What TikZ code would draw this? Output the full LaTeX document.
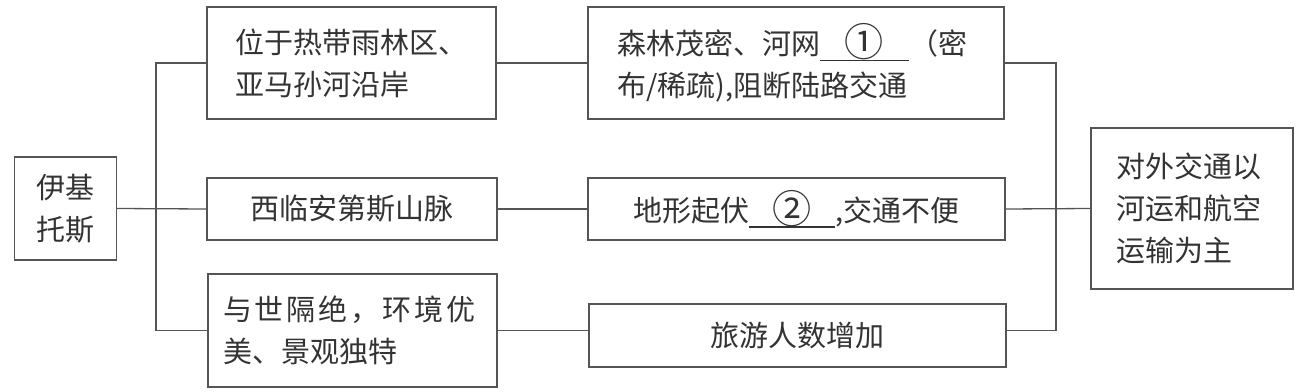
\documentclass[tikz,border=0pt]{standalone}
\usepackage{fontspec}
\usepackage{graphicx}
\newfontfamily\cjk{Noto Sans CJK SC}
\newcommand\blankfill[2]{\rlap{\rule[-6pt]{#1}{1.1pt}}\makebox[#1]{\raisebox{-2pt}{\scalebox{1.35}{#2}}}}
\definecolor{inkc}{HTML}{333333}
\definecolor{linec}{HTML}{555555}
\tikzset{
  boxnode/.style={draw=linec, line width=1.3pt, text=inkc, inner ysep=0pt,
    font=\cjk\fontsize{29}{42}\selectfont},
  conn/.style={draw=linec, line width=1.3pt}
}
\begin{document}
\begin{tikzpicture}[x=1pt,y=-1pt]
\useasboundingbox (0,0) rectangle (1298,391);
% left node
\node[boxnode, minimum width=102pt, minimum height=103pt, align=center] (I) at (65.5,208.5) {伊基\\托斯};
% middle column
\node[boxnode, minimum width=289pt, minimum height=112pt, inner xsep=28pt, text width=233pt, align=left] (A) at (351.5,63) {位于热带雨林区、\\亚马孙河沿岸};
\node[boxnode, minimum width=290pt, minimum height=62pt, align=center] (B) at (352,209) {西临安第斯山脉};
\node[boxnode, minimum width=289pt, minimum height=113pt, inner xsep=15pt, text width=259pt, align=left] (C) at (352.5,330.5) {{\addfontfeature{LetterSpace=10}与世隔绝，环境优}\\美、景观独特};
% right-middle column
\node[boxnode, minimum width=416pt, minimum height=112pt, inner xsep=29pt, text width=358pt, align=left] (D) at (796,63) {森林茂密、河网\blankfill{89pt}{①}（密\\布/稀疏),阻断陆路交通};
\node[boxnode, minimum width=417pt, minimum height=62pt, align=center] (E) at (796.5,209) {地形起伏\blankfill{86pt}{②},交通不便};
\node[boxnode, minimum width=417pt, minimum height=63pt, align=center] (F) at (797.5,335.5) {旅游人数增加};
% result
\node[boxnode, minimum width=202pt, minimum height=161pt, inner xsep=25pt, text width=152pt, align=left] (G) at (1192,208.5) {对外交通以\\河运和航空\\运输为主};
% buses
\coordinate (busL) at (156,209);
\coordinate (busR) at (1056,209);
\draw[conn] (I.east) -- (B.west);
\draw[conn] (A.west) -| (busL) |- (C.west);
\draw[conn] (A.east) -- (D.west);
\draw[conn] (B.east) -- (E.west);
\draw[conn] (C.east) -- (C.east -| F.west);
\draw[conn] (D.east) -| (busR) |- (C.east -| F.east);
\draw[conn] (E.east) -- (G.west);
\end{tikzpicture}
\end{document}
